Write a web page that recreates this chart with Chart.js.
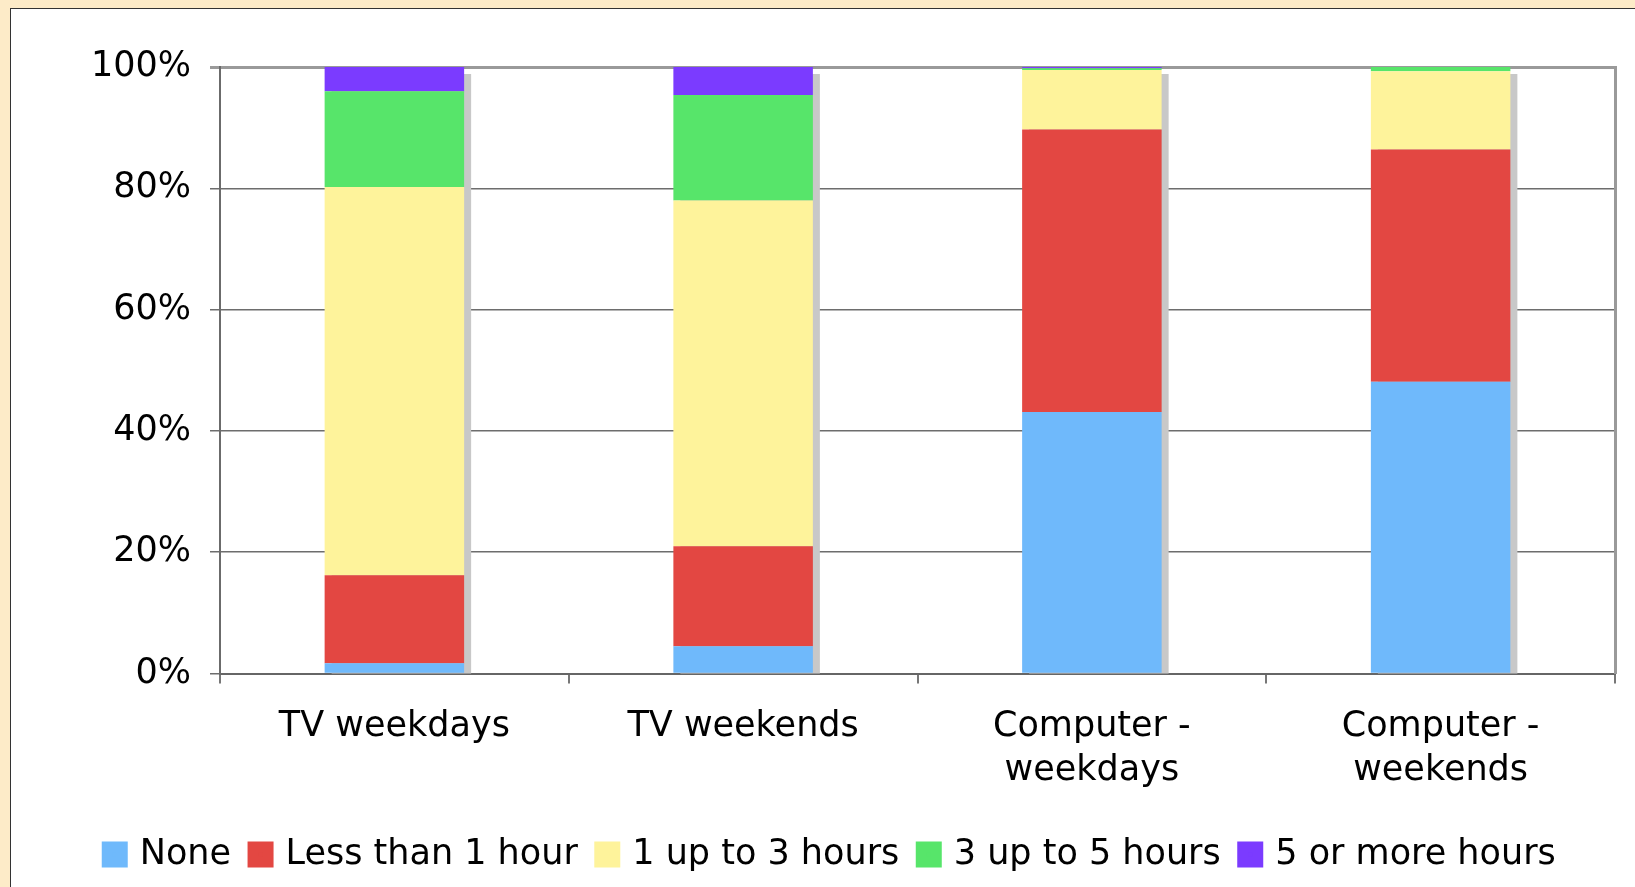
<!DOCTYPE html>
<html>
<head>
<meta charset="utf-8">
<script src="https://cdn.jsdelivr.net/npm/chart.js@4.4.1/dist/chart.umd.min.js"></script>
<style>
  html, body { margin: 0; padding: 0; background: #fdebc8; width: 1635px; height: 887px; overflow: hidden; }
  #panel { position: absolute; left: 10px; top: 8px; width: 1660px; height: 920px; background: #fff; border: 1.5px solid #333; }
  #wrap { position: absolute; left: 0; top: 0; width: 1635px; height: 887px; }
</style>
</head>
<body>
<div id="panel"></div>
<div id="wrap"><canvas id="chart"></canvas></div>
<script>
    // categories and series (percent of respondents)
    const categories = ['TV weekdays', 'TV weekends', ['Computer -', 'weekdays'], ['Computer -', 'weekends']];
    const seriesNames = ['None', 'Less than 1 hour', '1 up to 3 hours', '3 up to 5 hours', '5 or more hours'];
    const noneVals = [1.7, 4.5, 43.1, 48.1];
    const lessThan1 = [14.5, 16.5, 46.6, 38.3];
    const oneTo3 = [64.0, 57.0, 9.8, 12.9];
    const threeTo5 = [15.8, 17.4, 0.3, 0.7];
    const fivePlus = [4.0, 4.6, 0.2, 0.0];
    const yTicks = [0, 20, 40, 60, 80, 100];
    const colors = ['#6fb9fb', '#e34742', '#fef39b', '#57e56a', '#7b3bff'];

    const allSeries = [noneVals, lessThan1, oneTo3, threeTo5, fivePlus];
    const FONT = '"DejaVu Sans", Verdana, sans-serif';

    // grey drop shadow behind each stacked column
    const barShadow = {
        id: 'barShadow',
        beforeDatasetsDraw(chart) {
            const ctx = chart.ctx;
            const y = chart.scales.y;
            const meta = chart.getDatasetMeta(0);
            const area = chart.chartArea;
            ctx.save();
            ctx.fillStyle = '#c8c8c8';
            meta.data.forEach((bar, i) => {
                let total = 0;
                allSeries.forEach(s => total += s[i]);
                const top = y.getPixelForValue(total) + 7;
                const left = bar.x - bar.width / 2 + 7;
                ctx.fillRect(left, top, bar.width, area.bottom - top);
            });
            ctx.restore();
        }
    };

    const ctx = document.getElementById('chart').getContext('2d');
    new Chart(ctx, {
        type: 'bar',
        data: {
            labels: categories,
            datasets: allSeries.map((vals, i) => ({
                label: seriesNames[i],
                data: vals,
                backgroundColor: colors[i],
                borderWidth: 0,
                categoryPercentage: 1,
                barPercentage: 0.4
            }))
        },
        options: {
            responsive: true,
            maintainAspectRatio: false,
            animation: false,
            layout: { padding: { left: 40, right: 12, top: 67, bottom: 5 } },
            plugins: {
                tooltip: { enabled: false },
                legend: {
                    position: 'bottom',
                    labels: {
                        color: '#000',
                        font: { family: FONT, size: 35 },
                        boxWidth: 15,
                        boxHeight: 15,
                        padding: 22,
                        // thick same-colour outline makes a 26px square closer to its text
                        generateLabels(chart) {
                            return Chart.defaults.plugins.legend.labels.generateLabels(chart).map(item => {
                                item.lineWidth = 11;
                                item.strokeStyle = item.fillStyle;
                                return item;
                            });
                        }
                    }
                }
            },
            scales: {
                x: {
                    stacked: true,
                    grid: { display: true, drawOnChartArea: false, drawTicks: true, tickLength: 10, color: '#777', lineWidth: 2 },
                    border: { color: '#666', width: 2 },
                    ticks: { color: '#000', font: { family: FONT, size: 35, lineHeight: 1.25 }, padding: 22, maxRotation: 0 }
                },
                y: {
                    stacked: true,
                    min: 0,
                    max: 100,
                    afterBuildTicks(scale) { scale.ticks = yTicks.map(v => ({ value: v })); },
                    ticks: { color: '#000', font: { family: FONT, size: 35 }, padding: 19, callback: v => v + '%' },
                    grid: {
                        tickLength: 10,
                        color: c => c.tick && c.tick.value === 100 ? '#9a9a9a' : '#6d6d6d',
                        lineWidth: c => c.tick && c.tick.value === 100 ? 3 : 1.5
                    },
                    border: { color: '#6b6b6b', width: 2 },
                    afterFit(scale) { scale.width = 180; }
                },
                yR: {
                    position: 'right',
                    min: 0,
                    max: 100,
                    ticks: { display: false },
                    grid: { display: false },
                    border: { color: '#9a9a9a', width: 3 }
                }
            }
        },
        plugins: [barShadow]
    });
</script>
</body>
</html>
